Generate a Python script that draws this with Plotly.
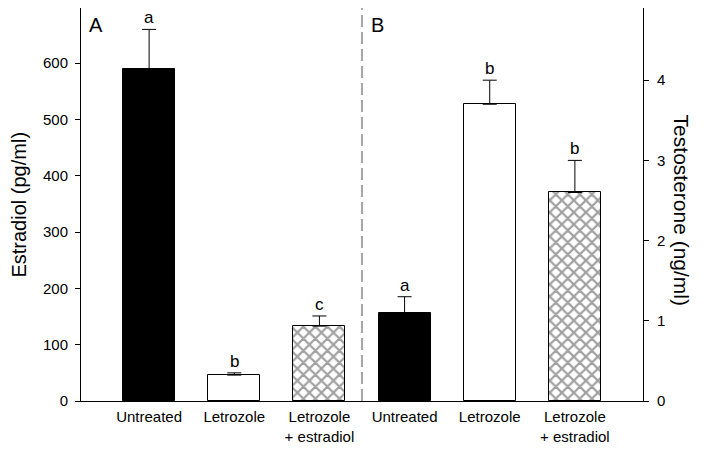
import plotly.graph_objects as go

# ---- data ----
categories = ["Untreated", "Letrozole", "Letrozole<br>+ estradiol"]
estradiol = [589, 46, 133]          # pg/ml (panel A)
estradiol_err = [71, 4, 18]
testosterone = [1.10, 3.70, 2.60]   # ng/ml (panel B)
testosterone_err = [0.20, 0.30, 0.40]
letters_a = ["a", "b", "c"]
letters_b = ["a", "b", "b"]
panel_labels = ["A", "B"]
y_title_left = "Estradiol (pg/ml)"
y_title_right = "Testosterone (ng/ml)"

xa = [0, 1, 2]
xb = [3, 4, 5]
fill_colors = ["black", "white", "white"]
pattern_shapes = ["", "", "x"]

FONT = "Liberation Sans, Arial, sans-serif"

fig = go.Figure()

common_marker = dict(
    color=fill_colors,
    line=dict(color="black", width=1),
    pattern=dict(shape=pattern_shapes, size=8.5, solidity=0.45,
                 fgcolor="black", bgcolor="white", fillmode="overlay"),
)

fig.add_trace(go.Bar(
    x=xa, y=estradiol, width=0.61, marker=common_marker,
    error_y=dict(type="data", symmetric=False, array=estradiol_err,
                 arrayminus=[0, 0, 0], color="black", thickness=1, width=7),
    yaxis="y", showlegend=False,
))
fig.add_trace(go.Bar(
    x=xb, y=testosterone, width=0.61, marker=common_marker,
    error_y=dict(type="data", symmetric=False, array=testosterone_err,
                 arrayminus=[0, 0, 0], color="black", thickness=1, width=7),
    yaxis="y2", showlegend=False,
))

annotations = []
for xi, v, e, t in zip(xa, estradiol, estradiol_err, letters_a):
    annotations.append(dict(x=xi, y=v + e, xref="x", yref="y", text=t,
                            showarrow=False, yanchor="bottom", yshift=0,
                            font=dict(size=17, color="black", family=FONT)))
for xi, v, e, t in zip(xb, testosterone, testosterone_err, letters_b):
    annotations.append(dict(x=xi, y=v + e, xref="x", yref="y2", text=t,
                            showarrow=False, yanchor="bottom", yshift=0,
                            font=dict(size=17, color="black", family=FONT)))
for px, t in zip([0.0107, 0.512], panel_labels):
    annotations.append(dict(x=px, y=0.957, xref="paper", yref="paper", text=t,
                            showarrow=False, xanchor="left", yanchor="middle",
                            font=dict(size=20, color="black", family=FONT)))
# axis titles (right one reads top-to-bottom as in the reference)
annotations.append(dict(x=-0.112, y=0.50, xref="paper", yref="paper", text=y_title_left,
                        showarrow=False, textangle=-90, xanchor="center", yanchor="middle",
                        borderpad=0,
                        font=dict(size=20, color="black", family=FONT)))
annotations.append(dict(x=1.069, y=0.485, xref="paper", yref="paper", text=y_title_right,
                        showarrow=False, textangle=90, xanchor="center", yanchor="middle",
                        borderpad=0,
                        font=dict(size=21, color="black", family=FONT)))

# the page adds an 8px body margin, so the figure is 8px smaller and margins shifted
fig.update_layout(
    width=696, height=441,
    margin=dict(l=73, r=61, t=0, b=48, autoexpand=False),
    paper_bgcolor="white", plot_bgcolor="white",
    font=dict(family=FONT, color="black", size=15),
    bargap=0,
    annotations=annotations,
    shapes=[dict(type="line", xref="x", yref="paper", x0=2.5, x1=2.5, y0=0, y1=1,
                 line=dict(color="#8a8a8a", width=1.5, dash="12px,5px"))],
    xaxis=dict(range=[-0.8, 5.8], tickvals=xa + xb, ticktext=categories + categories,
               showline=True, linecolor="black", linewidth=1, mirror=True,
               ticks="", showgrid=False, zeroline=False, ticklabelstandoff=2,
               automargin=False, tickfont=dict(size=15, color="black")),
    yaxis=dict(range=[0, 698], tickvals=[0, 100, 200, 300, 400, 500, 600],
               showline=True, linecolor="black", linewidth=1,
               ticks="outside", ticklen=5, tickcolor="black",
               showgrid=False, zeroline=False, automargin=False, ticklabelstandoff=4,
               tickfont=dict(size=15, color="black")),
    yaxis2=dict(range=[0, 4.9], tickvals=[0, 1, 2, 3, 4], overlaying="y", side="right",
                showline=True, linecolor="black", linewidth=1,
                ticks="outside", ticklen=5, tickcolor="black",
                showgrid=False, zeroline=False, automargin=False, ticklabelstandoff=5,
                tickfont=dict(size=15, color="black")),
)

fig.write_html("out.html")
